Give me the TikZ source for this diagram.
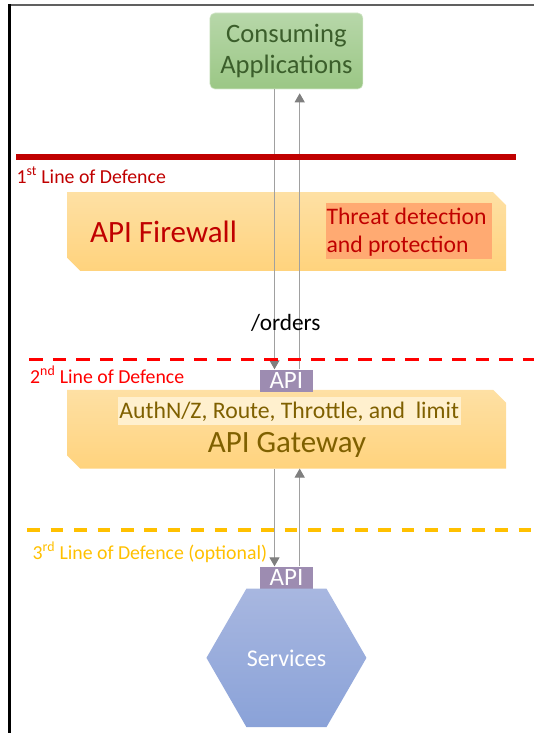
\documentclass[tikz,border=0pt]{standalone}
\usepackage{fontspec}
\setmainfont{Carlito}
\usetikzlibrary{arrows.meta,shapes.geometric,calc}
\definecolor{consTop}{HTML}{B7D7A9}
\definecolor{consBot}{HTML}{9BC785}
\definecolor{consText}{HTML}{3B5E2B}
\definecolor{boxTop}{HTML}{FEE0A4}
\definecolor{boxBot}{HTML}{FFD37D}
\definecolor{darkRed}{HTML}{C00000}
\definecolor{brightRed}{HTML}{FF0000}
\definecolor{amber}{HTML}{FFC000}
\definecolor{threatFill}{HTML}{FFAA72}
\definecolor{authFill}{HTML}{FFF0CE}
\definecolor{olive}{HTML}{7F6000}
\definecolor{apiFill}{HTML}{9D8CB1}
\definecolor{hexTop}{HTML}{A8B7E0}
\definecolor{hexBot}{HTML}{8AA2D8}
\definecolor{lineGray}{HTML}{A0A0A0}
\definecolor{tipGray}{HTML}{7F7F7F}
\definecolor{frameGray}{HTML}{606060}
\tikzset{
  consbox/.style={rectangle, rounded corners=5pt, top color=consTop, bottom color=consBot,
    draw=consTop!60!white, line width=0.6pt, minimum width=153pt, minimum height=76pt,
    align=center, text=consText, inner sep=0pt},
  snipframe/.style={rectangle, minimum width=438.4pt, minimum height=78.4pt, inner sep=0pt},
  snipfill/.style={top color=boxTop, bottom color=boxBot},
  apibox/.style={rectangle, fill=apiFill, text=white, minimum width=53pt, minimum height=22.6pt,
    inner sep=0pt, font=\fontsize{25}{26}\selectfont},
  conn/.style={draw=lineGray, line width=1pt,
    -{Triangle[width=10pt,length=9pt,color=tipGray]}},
  deflabel/.style={anchor=base west, inner sep=0pt, font=\fontsize{19.8}{22}\selectfont},
}
\begin{document}
\begin{tikzpicture}[x=1pt,y=-1pt]
\useasboundingbox (0,0) rectangle (534,733);
% frame
\draw[frameGray, line width=1.6pt] (8,5) -- (534,5);
\draw[black, line width=2.6pt] (9.4,4.2) -- (9.4,733);
% consuming applications
\node[consbox, font=\fontsize{26.6}{31}\selectfont] (cons) at (286.4,51) {Consuming\\Applications};
% firewall
\node[snipframe] (fw) at (286.6,231.5) {};
\path[snipfill] (fw.north west) -- ($(fw.north east)+(-13,0)$) -- ($(fw.north east)+(0,13)$)
  -- (fw.south east) -- ($(fw.south west)+(13,0)$) -- ($(fw.south west)+(0,-13)$) -- cycle;
\node[rectangle, fill=threatFill, minimum width=165.5pt, minimum height=56pt, inner sep=0pt] (threat) at (408.75,231.3) {};
\node[anchor=base west, inner sep=0pt, text=darkRed, align=left, font=\fontsize{23.7}{28}\selectfont] (threattxt) at (326.3,252.3) {Threat detection\\and protection};
\node[anchor=base west, inner sep=0pt, text=darkRed, font=\fontsize{31}{34}\selectfont] (fwtxt) at (90,242.3) {API Firewall};
% gateway
\node[snipframe] (gw) at (286.6,429.15) {};
\path[snipfill] (gw.north west) -- ($(gw.north east)+(-13,0)$) -- ($(gw.north east)+(0,13)$)
  -- (gw.south east) -- ($(gw.south west)+(13,0)$) -- ($(gw.south west)+(0,-13)$) -- cycle;
\node[rectangle, fill=authFill, minimum width=342.5pt, minimum height=27.7pt, inner sep=0pt] (auth) at (289.25,411.15) {};
\node[anchor=base, inner sep=0pt, text=olive, font=\fontsize{23.7}{26}\selectfont] (authtxt) at (289.25,418.3) {AuthN/Z, Route, Throttle, and~\ limit};
\node[anchor=base, inner sep=0pt, text=olive, font=\fontsize{31}{34}\selectfont] (gwtxt) at (287,452.7) {API Gateway};
% api boxes
\node[apibox] (api1) at (286.35,380.8) {API};
\node[apibox] (api2) at (286.5,577.85) {API};
% services
\node[regular polygon, regular polygon sides=6, minimum size=160pt, inner sep=0pt,
  top color=hexTop, bottom color=hexBot] (svc) at (286.45,657.85) {};
\node[text=white, font=\fontsize{24}{26}\selectfont] (svctxt) at (svc.center) {Services};
% connectors
\coordinate (xl) at (274.5,0);
\coordinate (xr) at (299.7,0);
\draw[conn] (cons.south -| xl) -- (api1.north -| xl);
\draw[conn, shorten >=4pt] (api1.north -| xr) -- (cons.south -| xr);
\draw[conn] (gw.south -| xl) -- (api2.north -| xl);
\draw[conn] (api2.north -| xr) -- (gw.south -| xr);
% lines of defence
\coordinate (l1a) at (16.3,157);
\coordinate (l1b) at (516,157);
\draw[darkRed, line width=6pt] (l1a) -- (l1b);
\coordinate (l2a) at (29.3,359.3);
\coordinate (l2b) at (534,359.3);
\draw[brightRed, line width=3.3pt, dash pattern=on 13.3pt off 10.2pt] (l2a) -- (l2b);
\coordinate (l3a) at (27.3,530);
\coordinate (l3b) at (534,530);
\draw[amber, line width=3.2pt, dash pattern=on 12.7pt off 10.7pt] (l3a) -- (l3b);
\node[deflabel, text=darkRed] (d1) at (16.3,183) {1\textsuperscript{st} Line of Defence};
\node[deflabel, text=brightRed] (d2) at (30,383.3) {2\textsuperscript{nd} Line of Defence};
\node[deflabel, text=amber] (d3) at (32.4,559.3) {3\textsuperscript{rd} Line of Defence (optional)};
% path label
\node[anchor=base west, inner sep=0pt, text=black, font=\fontsize{23.3}{24}\selectfont] (orders) at (251,330) {/orders};
\end{tikzpicture}
\end{document}
